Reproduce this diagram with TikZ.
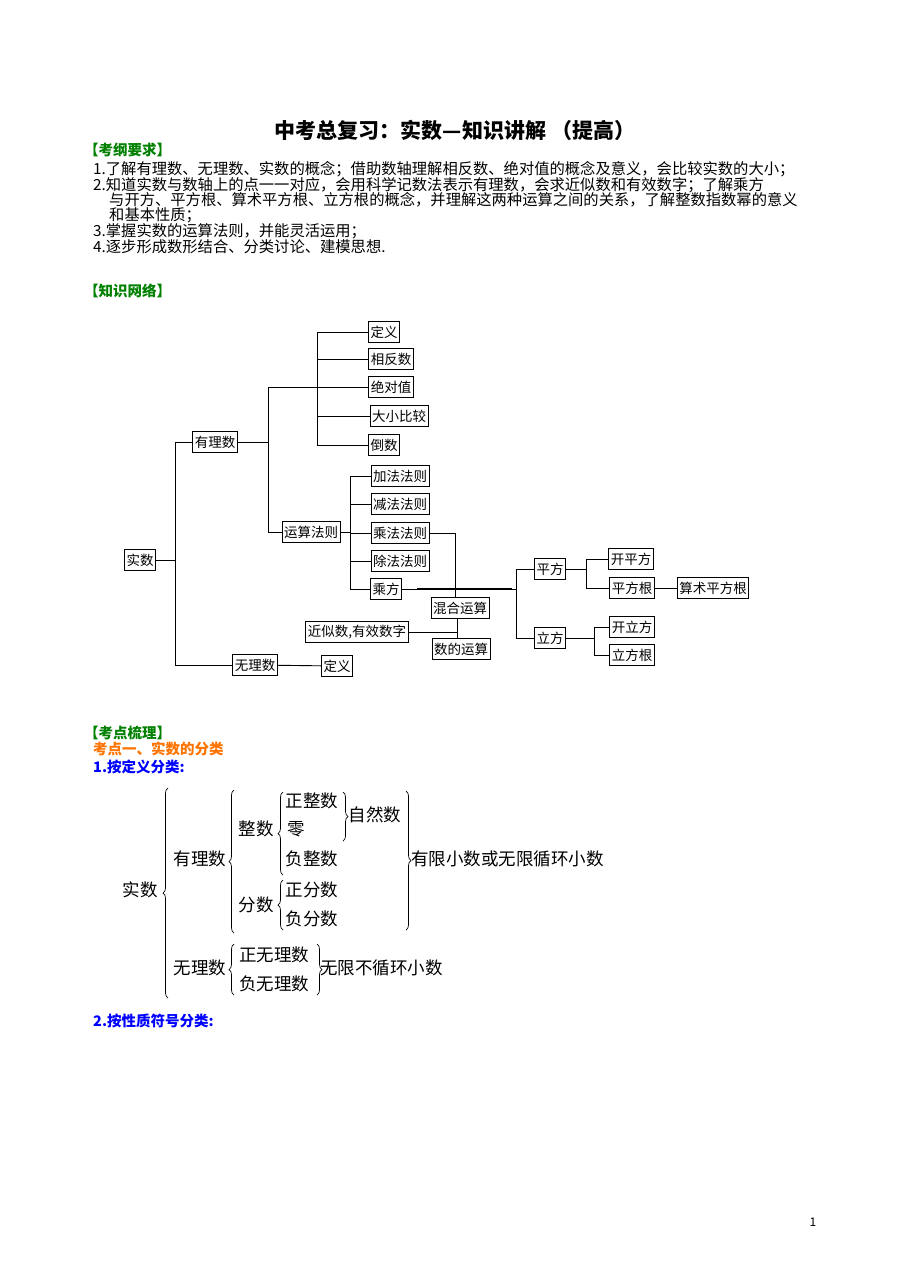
\documentclass[tikz,border=0pt]{standalone}
\usepackage{fontspec}
\setmainfont{Noto Sans CJK SC}
\usetikzlibrary{decorations.pathreplacing}
\begin{document}
\begin{tikzpicture}[x=1pt,y=-1pt,
 bx/.style={draw,line width=0.9pt,inner sep=2pt,minimum height=21pt,font=\fontsize{13.5}{14}\selectfont,fill=white},
 ln/.style={line width=0.9pt},
 tx/.style={anchor=west,inner sep=0,font=\fontsize{15.3}{16}\selectfont},
 hd/.style={anchor=west,inner sep=0,font=\fontsize{14.5}{15}\selectfont\bfseries},
 cl/.style={inner sep=0,font=\fontsize{17.5}{18}\selectfont},
 br/.style={decorate,decoration={brace,amplitude=5pt},line width=0.7pt}]
\useasboundingbox (0,0) rectangle (909,1286);
\node[inner sep=0,font=\fontsize{21}{22}\selectfont\bfseries] (title) at (455,130) {中考总复习：实数—知识讲解 （提高）};
\node[hd,text=green!50!black] (h1) at (84,150) {【考纲要求】};
\node[tx] (l1) at (93,169) {1.了解有理数、无理数、实数的概念；借助数轴理解相反数、绝对值的概念及意义，会比较实数的大小；};
\node[tx] (l2) at (93,185) {2.知道实数与数轴上的点一一对应，会用科学记数法表示有理数，会求近似数和有效数字；了解乘方};
\node[tx] (l2b) at (109,200) {与开方、平方根、算术平方根、立方根的概念，并理解这两种运算之间的关系，了解整数指数幂的意义};
\node[tx] (l2c) at (109,215) {和基本性质；};
\node[tx] (l3) at (93,231) {3.掌握实数的运算法则，并能灵活运用；};
\node[tx] (l4) at (93,247) {4.逐步形成数形结合、分类讨论、建模思想.};
\node[hd,text=green!50!black] (h2) at (84,291) {【知识网络】};
% diagram
\node[bx] (ss) at (140,560) {实数};
\node[bx] (yl) at (215,442) {有理数};
\node[bx] (wl) at (255,665) {无理数};
\node[bx] (dy2) at (337,666) {定义};
\node[bx] (dy) at (384,332) {定义};
\node[bx] (xf) at (391,359) {相反数};
\node[bx] (jd) at (391,387) {绝对值};
\node[bx] (dx) at (399,416) {大小比较};
\node[bx] (ds) at (384,445) {倒数};
\node[bx] (ys) at (311,532) {运算法则};
\node[bx] (jf) at (400,476) {加法法则};
\node[bx] (jn) at (400,504) {减法法则};
\node[bx] (cf) at (400,533) {乘法法则};
\node[bx] (cc) at (400,561) {除法法则};
\node[bx] (cfa) at (386,589) {乘方};
\node[bx] (hh) at (460,608) {混合运算};
\node[bx] (sd) at (461,649) {数的运算};
\node[bx] (js) at (357,632) {近似数,有效数字};
\node[bx] (pf) at (550,569) {平方};
\node[bx] (lf) at (550,638) {立方};
\node[bx] (kp) at (631,559) {开平方};
\node[bx] (pg) at (632,588) {平方根};
\node[bx] (sp) at (713,588) {算术平方根};
\node[bx] (kl) at (632,627) {开立方};
\node[bx] (lg) at (632,655) {立方根};
\coordinate (a1) at (175,560);
\draw[ln] (ss.east) -- (a1) (a1|-yl) -- (a1|-wl);
\draw[ln] (a1|-yl) -- (yl.west) (a1|-wl) -- (wl.west);
\draw[ln] (wl) -- (dy2);
\coordinate (a2) at (268,442);
\draw[ln] (yl.east) -- (a2) (268,387) -- (268,532) -- (ys.west);
\coordinate (a3) at (317,387);
\draw[ln] (268,387) -- (jd.west);
\draw[ln] (317,332) -- (317,445);
\foreach \n in {dy,xf,dx,ds} \draw[ln] (317,0|-\n) -- (\n.west);
\coordinate (a4) at (350,532);
\draw[ln] (ys.east) -- (a4) (350,476) -- (350,589);
\foreach \n in {jf,jn,cf,cc,cfa} \draw[ln] (350,0|-\n) -- (\n.west);
\draw[ln] (cf.east) -- (455,533) -- (455,0|-hh.north);
\draw[ln] (hh.south-|457,0) -- (457,0|-sd.north);
\draw[ln] (js.east) -- (457,632);
\draw[ln] (cfa.east) -- (516,589);
\draw[line width=2.2pt] (417,589) -- (512,589);
\draw[ln] (516,569) -- (516,638);
\draw[ln] (516,569) -- (pf.west) (516,638) -- (lf.west);
\draw[ln] (pf.east) -- (586,569) (586,559) -- (586,588);
\draw[ln] (586,559) -- (kp.west) (586,588) -- (pg.west);
\draw[ln] (pg) -- (sp);
\draw[ln] (lf.east) -- (594,638) (594,627) -- (594,655);
\draw[ln] (594,627) -- (kl.west) (594,655) -- (lg.west);
% section 2
\node[hd,text=green!50!black] (h3) at (84,733) {【考点梳理】};
\node[hd,text=orange!90!red] (h4) at (93,749) {考点一、实数的分类};
\node[hd,text=blue] (h5) at (93,767) {1.按定义分类:};
\node[cl] (c1) at (140,890) {实数};
\node[cl] (c2) at (200,859) {有理数};
\node[cl] (c3) at (256,829) {整数};
\node[cl] (c4) at (312,801) {正整数};
\node[cl,anchor=west] (c5) at (287,829) {零};
\node[cl] (c6) at (312,859) {负整数};
\node[cl] (c7) at (375,815) {自然数};
\node[cl,anchor=west] (c8) at (411,859) {有限小数或无限循环小数};
\node[cl] (c9) at (256,905) {分数};
\node[cl] (c10) at (312,890) {正分数};
\node[cl] (c11) at (312,919) {负分数};
\node[cl] (c12) at (200,968) {无理数};
\node[cl] (c13) at (274,955) {正无理数};
\node[cl] (c14) at (274,984) {负无理数};
\node[cl,anchor=west] (c15) at (320,968) {无限不循环小数};
\draw[br] (168,998) -- (168,788);
\draw[br] (234,933) -- (234,790);
\draw[br] (283,875) -- (283,792);
\draw[br] (283,930) -- (283,880);
\draw[br] (234,995) -- (234,944);
\draw[br] (343,792) -- (343,841);
\draw[br] (406,791) -- (406,930);
\draw[br] (317,944) -- (317,995);
\node[hd,text=blue] (h6) at (93,1021) {2.按性质符号分类:};
\node[inner sep=0,font=\fontsize{12}{12}\selectfont] (pn) at (813,1222) {1};
\end{tikzpicture}
\end{document}
